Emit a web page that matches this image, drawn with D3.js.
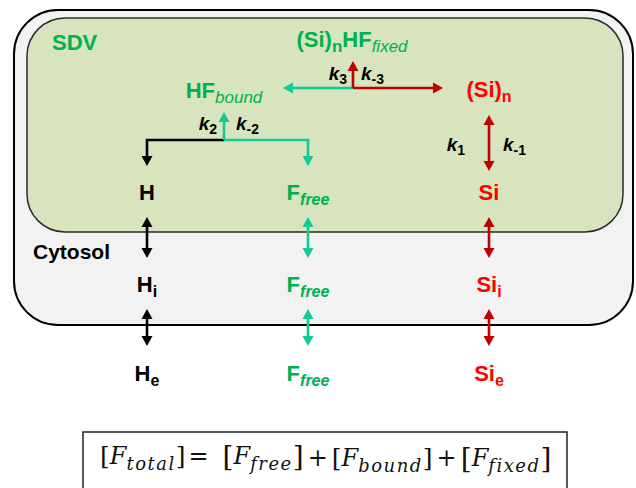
<!DOCTYPE html>
<html><head><meta charset="utf-8">
<script src="https://cdn.jsdelivr.net/npm/d3@7"></script>
<style>html,body{margin:0;padding:0;background:#fff;}svg{display:block;}</style>
</head><body>
<svg id="c" width="636" height="488"></svg>
<script>
// ---- content ----
const species = ["H", "F", "Si"];                       // diagram columns
const compartments = ["SDV", "Cytosol", "Extracellular"]; // diagram rows
const compartmentSubscripts = ["", "i", "e"];           // H, Hi, He ...
const freeSubscript = "free";
const boundComplex = ["HF", "bound"];
const fixedComplex = ["(Si)", "n", "HF", "fixed"];
const polymer = ["(Si)", "n"];
const rateConstants = [["k", "2"], ["k", "-2"], ["k", "3"], ["k", "-3"], ["k", "1"], ["k", "-1"]];
const regionLabels = ["SDV", "Cytosol"];
const equationTerms = ["total", "free", "bound", "fixed"];
const equationOps = ["=", "+", "+"];

// ---- layout & style ----
const svg = d3.select("#c");
const x = d3.scaleOrdinal().domain(species).range([147, 308, 489]);
const y = d3.scaleOrdinal().domain(compartments).range([200, 292, 381]);
const GREEN_TXT = "#00b050", TEAL = "#12c998", RED_TXT = "#ff0000", RED = "#c00000", BLACK = "#000";
const colColor = {H: BLACK, F: GREEN_TXT, Si: RED_TXT};
const colArrow = {H: BLACK, F: TEAL, Si: RED};
const SANS = "'Liberation Sans', Arial, sans-serif";

// compartments
svg.append("rect").attr("x", 14).attr("y", 10).attr("width", 619).attr("height", 315)
  .attr("rx", 44).attr("fill", "#f2f2f2").attr("stroke", "#000").attr("stroke-width", 2);
svg.append("rect").attr("x", 27).attr("y", 18).attr("width", 596).attr("height", 214)
  .attr("rx", 38).attr("fill", "#d7e4bd").attr("stroke", "#2b2b2b").attr("stroke-width", 1.5);

svg.append("text").attr("x", 52).attr("y", 50).text(regionLabels[0])
  .attr("font-family", SANS).attr("font-weight", "bold").attr("font-size", 22).attr("fill", GREEN_TXT);
svg.append("text").attr("x", 33).attr("y", 259).text(regionLabels[1])
  .attr("font-family", SANS).attr("font-weight", "bold").attr("font-size", 21).attr("fill", BLACK);

// arrow helper
function head(g, tip, dir, color) {
  const L = 10, W = 5.5;
  const [ux, uy] = dir, px = -uy, py = ux;
  const bx = tip[0] - ux * L, by = tip[1] - uy * L;
  g.append("path").attr("d", `M${tip[0]},${tip[1]}L${bx + px * W},${by + py * W}L${bx - px * W},${by - py * W}Z`)
    .attr("fill", color);
}
function arrow(pts, color, startHead, endHead) {
  const g = svg.append("g");
  const p = pts.map(d => d.slice());
  const n = p.length;
  const unit = (a, b) => { const dx = b[0] - a[0], dy = b[1] - a[1], l = Math.hypot(dx, dy); return [dx / l, dy / l]; };
  const dEnd = unit(p[n - 2], p[n - 1]), dStart = unit(p[1], p[0]);
  const tipE = p[n - 1].slice(), tipS = p[0].slice();
  if (endHead) { p[n - 1] = [tipE[0] - dEnd[0] * 8, tipE[1] - dEnd[1] * 8]; }
  if (startHead) { p[0] = [tipS[0] - dStart[0] * 8, tipS[1] - dStart[1] * 8]; }
  g.append("path").attr("d", d3.line()(p)).attr("fill", "none").attr("stroke", color).attr("stroke-width", 2.6);
  if (endHead) head(g, tipE, dEnd, color);
  if (startHead) head(g, tipS, dStart, color);
}

// species labels
function subLabel(cx, by, main, sub, color, size, subSize, subStyle, subWeight) {
  const t = svg.append("text").attr("x", cx).attr("y", by).attr("text-anchor", "middle")
    .attr("font-family", SANS).attr("font-weight", "bold").attr("font-size", size).attr("fill", color);
  main.forEach((m, i) => {
    t.append("tspan").attr("dy", i === 0 ? 0 : -5).text(m);
    if (sub[i]) {
      t.append("tspan").attr("dy", 5).attr("font-size", subSize).attr("font-style", subStyle[i] || "normal")
        .attr("font-weight", subWeight[i] || "bold").text(sub[i]);
    } else if (i < main.length - 1) {
      t.append("tspan").attr("dy", 5).text("");
    }
  });
  return t;
}

compartments.forEach((c, ri) => {
  species.forEach(s => {
    if (s === "F") {
      subLabel(x(s), y(c), ["F"], [freeSubscript], colColor[s], 22, 16, ["italic"], ["bold"]);
    } else {
      subLabel(x(s), y(c), [s], [compartmentSubscripts[ri]], colColor[s], 22, 16, [], []);
    }
  });
});

// transport arrows between compartments
[[217, 258], [309, 346]].forEach(([a, b]) => {
  species.forEach(s => arrow([[x(s), a], [x(s), b]], colArrow[s], true, true));
});

// complexes
subLabel(224, 98, [boundComplex[0]], [boundComplex[1]], GREEN_TXT, 22, 17, ["italic"], ["normal"]);
subLabel(352, 47, [fixedComplex[0], fixedComplex[2]], [fixedComplex[1], fixedComplex[3]], GREEN_TXT, 22, 17, ["normal", "italic"], ["bold", "normal"]);
subLabel(x("Si"), 97, [polymer[0]], [polymer[1]], RED_TXT, 22, 16, [], []);

// reaction arrows
arrow([[224, 140], [x("H"), 140], [x("H"), 166]], BLACK, false, true);
arrow([[224, 140], [x("F"), 140], [x("F"), 166]], TEAL, false, true);
arrow([[224, 140], [224, 112]], TEAL, false, true);
arrow([[353, 88], [283, 88]], TEAL, false, true);
arrow([[353, 88], [443, 88]], RED, false, true);
arrow([[353, 88], [353, 61]], RED, false, true);
arrow([[x("Si"), 115], [x("Si"), 171]], RED, true, true);

// rate constants
function kLabel(k, px, py, anchor) {
  const t = svg.append("text").attr("x", px).attr("y", py).attr("text-anchor", anchor)
    .attr("font-family", SANS).attr("font-weight", "bold").attr("font-size", 19).attr("fill", BLACK);
  t.append("tspan").attr("font-style", "italic").text(k[0]);
  t.append("tspan").attr("dy", 4).attr("font-size", 14).text(k[1]);
}
kLabel(rateConstants[0], 217, 130, "end");
kLabel(rateConstants[1], 236, 130, "start");
kLabel(rateConstants[2], 347, 80, "end");
kLabel(rateConstants[3], 361, 80, "start");
kLabel(rateConstants[4], 465, 151, "end");
kLabel(rateConstants[5], 503, 151, "start");

// equation
svg.append("rect").attr("x", 83).attr("y", 432).attr("width", 484).attr("height", 70)
  .attr("fill", "#fff").attr("stroke", "#222").attr("stroke-width", 1.5);
const eq = svg.append("text").attr("x", 100).attr("y", 464)
  .attr("font-family", "'DejaVu Serif', 'Liberation Serif', serif").attr("font-size", 24).attr("fill", "#111");
equationTerms.forEach((term, i) => {
  if (i > 0) eq.append("tspan").attr("dx", i === 1 ? 3 : 4).attr("font-style", "normal").text(equationOps[i - 1]);
  const big = term.includes("f");
  eq.append("tspan").attr("dx", i === 0 ? 0 : (i === 1 ? 14 : 4)).attr("font-size", big ? 28 : 25).attr("dy", big ? 2 : 0).text("[");
  eq.append("tspan").attr("font-style", "italic").attr("dy", big ? -2 : 0).text("F");
  eq.append("tspan").attr("font-style", "italic").attr("font-size", 18).attr("letter-spacing", 1.5).attr("dy", 6).text(term);
  eq.append("tspan").attr("font-size", big ? 28 : 25).attr("dy", big ? -4 : -6).text("]");
  if (big) eq.append("tspan").attr("dy", -2).text("");
});
</script>
</body></html>
